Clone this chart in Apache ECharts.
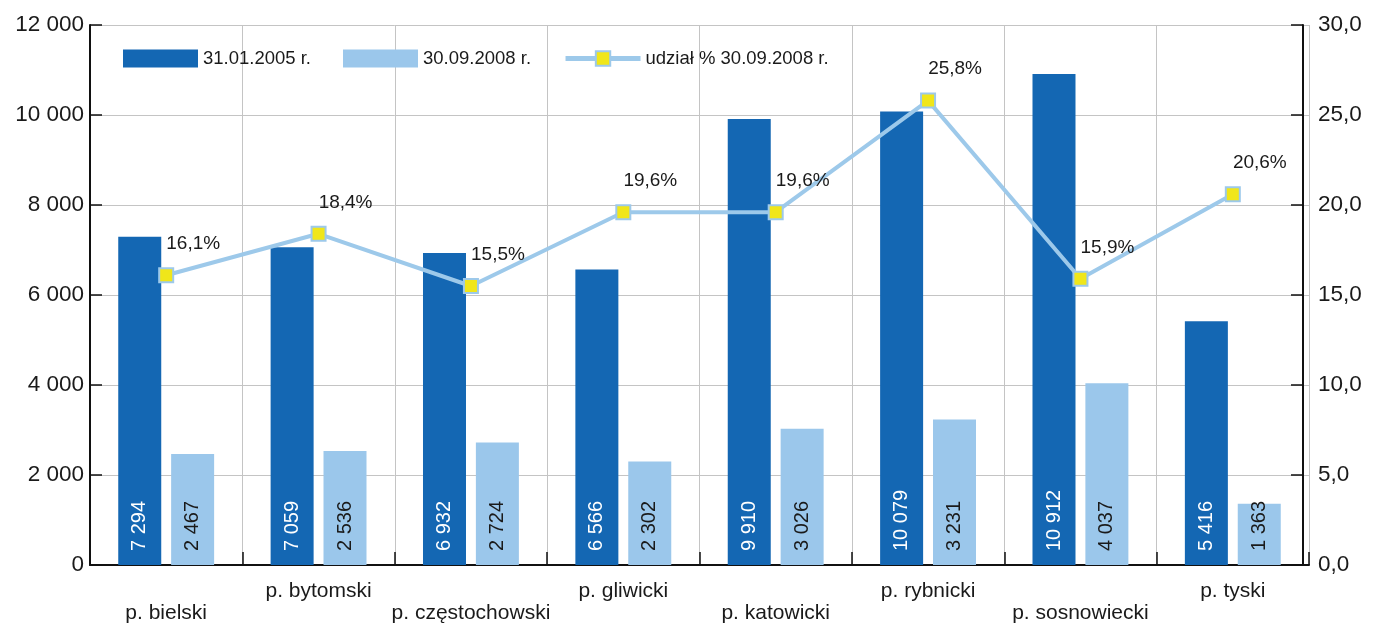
<!DOCTYPE html>
<html>
<head>
<meta charset="utf-8">
<script src="https://cdn.jsdelivr.net/npm/echarts@6/dist/echarts.min.js"></script>
<style>
html,body{margin:0;padding:0;background:#fff;}
#chart{width:1376px;height:624px;}
</style>
</head>
<body>
<div id="chart"></div>
<script>
const categories = ['p. bielski','p. bytomski','p. częstochowski','p. gliwicki','p. katowicki','p. rybnicki','p. sosnowiecki','p. tyski'];
const values2005 = [7294, 7059, 6932, 6566, 9910, 10079, 10912, 5416];
const values2008 = [2467, 2536, 2724, 2302, 3026, 3231, 4037, 1363];
const share2008 = [16.1, 18.4, 15.5, 19.6, 19.6, 25.8, 15.9, 20.6];
const seriesNames = ['31.01.2005 r.', '30.09.2008 r.', 'udział % 30.09.2008 r.'];

const FONT = '"Liberation Sans", Arial, sans-serif';
const TXT = '#1a1a1a';
function thou(v){ return String(v).replace(/\B(?=(\d{3})+(?!\d))/g, '\u00a0'); }
function comma1(v){ return Number(v).toFixed(1).replace('.', ','); }

const chart = echarts.init(document.getElementById('chart'), null, {renderer:'canvas'});
const barLabel = (color) => ({
  show: true,
  position: 'insideBottom',
  rotate: 90,
  align: 'left',
  verticalAlign: 'middle',
  distance: 14,
  color: color,
  fontSize: 20,
  fontFamily: FONT,
  formatter: p => thou(p.value)
});
chart.setOption({
  animation: false,
  backgroundColor: '#fff',
  textStyle: {fontFamily: FONT, color: TXT},
  grid: {left: 90, right: 67, top: 25, bottom: 59, containLabel: false},
  legend: {
    left: 118, top: 44,
    itemWidth: 75, itemHeight: 18, itemGap: 32,
    textStyle: {fontSize: 18.5, color: TXT, fontFamily: FONT},
    data: [
      {name: seriesNames[0], icon: 'rect'},
      {name: seriesNames[1], icon: 'rect'},
      {name: seriesNames[2], lineStyle: {width: 5, color: '#9dc9ea'}}
    ]
  },
  xAxis: {
    type: 'category',
    data: categories,
    axisLine: {lineStyle: {color: '#111', width: 2}},
    axisTick: {show: true, inside: true, length: 13, lineStyle: {color: '#111', width: 1.5}},
    splitLine: {show: true, lineStyle: {color: '#c4c4c4', width: 1}},
    axisLabel: {
      interval: 0, margin: 15, fontSize: 21, lineHeight: 22, color: TXT, fontFamily: FONT,
      formatter: (v, i) => (i % 2 === 0 ? '\n' + v : v)
    }
  },
  yAxis: [
    {
      type: 'value', min: 0, max: 12000, interval: 2000,
      axisLine: {show: true, lineStyle: {color: '#111', width: 2}},
      axisTick: {show: true, inside: true, length: 12, lineStyle: {color: '#111', width: 1.5}},
      splitLine: {show: true, lineStyle: {color: '#c4c4c4', width: 1}},
      axisLabel: {margin: 6, fontSize: 22.5, color: TXT, fontFamily: FONT, formatter: v => thou(v)}
    },
    {
      type: 'value', min: 0, max: 30, interval: 5, position: 'right', offset: -6,
      axisLine: {show: true, lineStyle: {color: '#111', width: 2}},
      axisTick: {show: true, inside: true, length: 12, lineStyle: {color: '#111', width: 1.5}},
      splitLine: {show: false},
      axisLabel: {margin: 15, fontSize: 22.5, color: TXT, fontFamily: FONT, formatter: v => comma1(v)}
    }
  ],
  series: [
    {
      name: seriesNames[0], type: 'bar', data: values2005,
      barWidth: 43, barGap: '23%',
      itemStyle: {color: '#1467b3'},
      label: barLabel('#ffffff')
    },
    {
      name: seriesNames[1], type: 'bar', data: values2008,
      barWidth: 43, barGap: '23%',
      itemStyle: {color: '#9bc7eb'},
      label: barLabel(TXT)
    },
    {
      name: seriesNames[2], type: 'line', yAxisIndex: 1, data: share2008,
      symbol: 'rect', symbolSize: 14,
      lineStyle: {color: '#9dc9ea', width: 4},
      itemStyle: {color: '#f0e61a', borderColor: '#9dc9ea', borderWidth: 2},
      label: {
        show: true, position: 'top', distance: 14, offset: [27, 0],
        fontSize: 19, color: TXT, fontFamily: FONT,
        formatter: p => comma1(p.value) + '%'
      },
      z: 5
    }
  ]
});
</script>
</body>
</html>
